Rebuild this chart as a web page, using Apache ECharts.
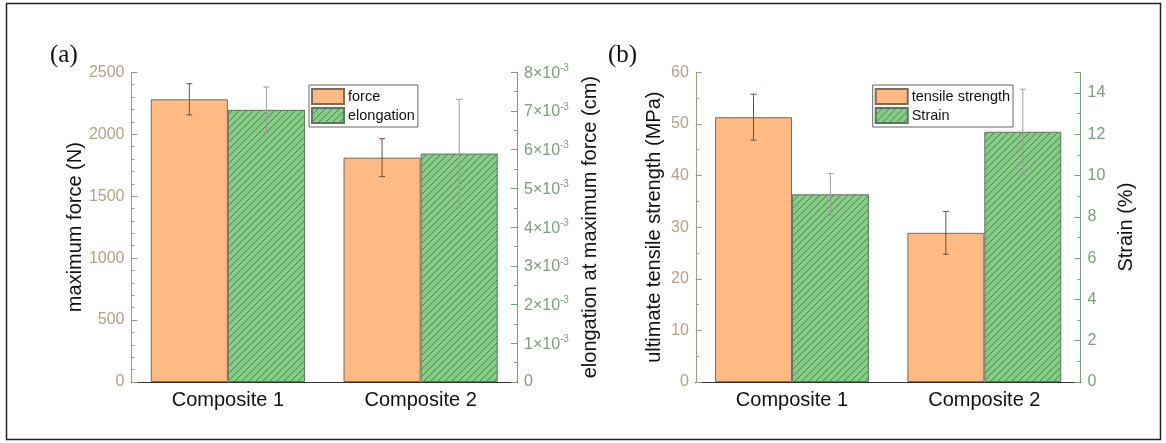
<!DOCTYPE html>
<html>
<head>
<meta charset="utf-8">
<script src="https://cdn.jsdelivr.net/npm/echarts@6/dist/echarts.min.js"></script>
<style>
  html, body { margin: 0; padding: 0; background: #fff; }
  #chart { width: 1166px; height: 443px; }
</style>
</head>
<body>
<div id="chart"></div>
<script>
const categories = ['Composite 1', 'Composite 2']
// panel (a)
const force = [2282, 1811]
const forceErr = [126, 153]
const elongation = [0.00703, 0.0059]
const elongationErr = [0.00059, 0.0014]
// panel (b)
const tensile = [51.3, 28.9]
const tensileErr = [4.45, 4.15]
const strain = [9.09, 12.12]
const strainErr = [1.01, 2.06]

const FONT = 'Liberation Sans, Arial, sans-serif'
const TAN = '#b3a287'
const GREEN_AX = '#7c9c7e'

// hatched green fill
function hatch() {
  const c = document.createElement('canvas')
  const s = 7
  c.width = s
  c.height = s
  const ctx = c.getContext('2d')
  ctx.fillStyle = '#86cc87'
  ctx.fillRect(0, 0, s, s)
  ctx.strokeStyle = '#3f7d45'
  ctx.lineWidth = 0.9
  ctx.beginPath()
  ctx.moveTo(-1, s + 1); ctx.lineTo(s + 1, -1)
  ctx.moveTo(-1, 1); ctx.lineTo(1, -1)
  ctx.moveTo(s - 1, s + 1); ctx.lineTo(s + 1, s - 1)
  ctx.stroke()
  return { image: c, repeat: 'repeat' }
}
const hatchFill = hatch()

function errSeries(vals, errs, gi, yi, offset, color) {
  return {
    type: 'custom',
    xAxisIndex: gi * 2,
    yAxisIndex: gi * 2 + yi,
    z: 10,
    silent: true,
    data: vals.map((v, i) => [i, v, errs[i]]),
    encode: { x: 0, y: 1 },
    renderItem(params, api) {
      const i = api.value(0)
      const v = api.value(1)
      const e = api.value(2)
      const band = api.size([1, 0])[0]
      const x = api.coord([i, v])[0] + offset * band
      const yt = api.coord([i, v + e])[1]
      const yb = api.coord([i, v - e])[1]
      const st = { stroke: color, lineWidth: 1 }
      return {
        type: 'group',
        children: [
          { type: 'line', shape: { x1: x, y1: yt, x2: x, y2: yb }, style: st },
          { type: 'line', shape: { x1: x - 3, y1: yt, x2: x + 3, y2: yt }, style: st },
          { type: 'line', shape: { x1: x - 3, y1: yb, x2: x + 3, y2: yb }, style: st }
        ]
      }
    }
  }
}

function xAxes(gi) {
  const base = {
    type: 'category',
    data: categories,
    gridIndex: gi,
    axisLine: { lineStyle: { color: '#333', width: 1.2 } },
    axisTick: { inside: true, alignWithLabel: true, length: 5, lineStyle: { color: '#333' } },
    splitLine: { show: false }
  }
  return [
    Object.assign({}, base, {
      position: 'bottom',
      axisLabel: { fontSize: 20, color: '#111', fontFamily: FONT, margin: 8 }
    }),
    Object.assign({}, base, { position: 'top', axisLabel: { show: false } })
  ]
}

function leftAxis(gi, max, interval, minorSplit, name, gap) {
  return {
    type: 'value', gridIndex: gi, position: 'left',
    min: 0, max: max, interval: interval,
    name: name, nameLocation: 'middle', nameGap: gap,
    nameTextStyle: { fontSize: 20, color: '#111', fontFamily: FONT },
    axisLine: { show: true, lineStyle: { color: '#a8977f' } },
    axisTick: { show: true, inside: true, length: 6, lineStyle: { color: '#a8977f' } },
    minorTick: { show: true, splitNumber: minorSplit, length: 3, lineStyle: { color: '#a8977f' } },
    axisLabel: { fontSize: 16, color: TAN, fontFamily: FONT, margin: 7, formatter: v => String(v) },
    splitLine: { show: false }
  }
}

function rightAxis(gi, max, interval, name, gap, formatter) {
  return {
    type: 'value', gridIndex: gi, position: 'right',
    min: 0, max: max, interval: interval,
    name: name, nameLocation: 'middle', nameGap: gap,
    nameTextStyle: { fontSize: 20, color: '#111', fontFamily: FONT },
    axisLine: { show: true, lineStyle: { color: GREEN_AX } },
    axisTick: { show: true, inside: true, length: 6, lineStyle: { color: GREEN_AX } },
    minorTick: { show: true, splitNumber: 2, length: 3, lineStyle: { color: GREEN_AX } },
    axisLabel: {
      fontSize: 16, color: GREEN_AX, fontFamily: FONT, margin: 7,
      showMaxLabel: max / interval === Math.round(max / interval),
      formatter: formatter,
      rich: {
        b: { fontSize: 16, color: GREEN_AX, fontFamily: FONT, verticalAlign: 'bottom' },
        s: { fontSize: 10, color: GREEN_AX, fontFamily: FONT, verticalAlign: 'bottom', padding: [0, 0, 8, 0] }
      }
    },
    splitLine: { show: false }
  }
}

function legend(left, names) {
  return {
    left: left, top: 85, orient: 'vertical',
    data: names, icon: 'rect',
    itemWidth: 32, itemHeight: 15, itemGap: 2,
    selectedMode: false,
    padding: [3, 3, 3, 2],
    borderColor: '#666', borderWidth: 1,
    textStyle: { fontSize: 14.5, color: '#111', fontFamily: FONT, padding: [0, 0, 0, -1] }
  }
}

const orangeStyle = { color: '#ffb983', borderColor: '#806a58', borderWidth: 1 }
const greenStyle = { color: hatchFill, borderColor: '#58785a', borderWidth: 1 }

const chart = echarts.init(document.getElementById('chart'))
chart.setOption({
  animation: false,
  backgroundColor: '#fff',
  grid: [
    { left: 131.5, top: 72.3, width: 385.5, height: 309.7 },
    { left: 695.8, top: 72.3, width: 384.7, height: 309.7 }
  ],
  legend: [
    legend(309, ['force', 'elongation']),
    legend(872.7, ['tensile strength', 'Strain'])
  ],
  xAxis: xAxes(0).concat(xAxes(1)),
  yAxis: [
    leftAxis(0, 2500, 500, 5, 'maximum force (N)', 41),
    rightAxis(0, 0.008, 0.001, 'elongation at maximum force (cm)', 63,
      v => v === 0 ? '{b|0}' : '{b|' + Math.round(v * 1000) + '×10}{s|-3}'),
    leftAxis(1, 60, 10, 2, 'ultimate tensile strength (MPa)', 31),
    rightAxis(1, 15, 2, 'Strain (%)', 36, v => '{b|' + v + '}')
  ],
  series: [
    { name: 'force', type: 'bar', xAxisIndex: 0, yAxisIndex: 0, data: force,
      barWidth: '40%', barGap: '0%', itemStyle: orangeStyle },
    { name: 'elongation', type: 'bar', xAxisIndex: 0, yAxisIndex: 1, data: elongation,
      barWidth: '40%', barGap: '0%', itemStyle: greenStyle },
    errSeries(force, forceErr, 0, 0, -0.2, '#6b5142'),
    errSeries(elongation, elongationErr, 0, 1, 0.2, '#9d9d9d'),
    { name: 'tensile strength', type: 'bar', xAxisIndex: 2, yAxisIndex: 2, data: tensile,
      barWidth: '40%', barGap: '0%', itemStyle: orangeStyle },
    { name: 'Strain', type: 'bar', xAxisIndex: 2, yAxisIndex: 3, data: strain,
      barWidth: '40%', barGap: '0%', itemStyle: greenStyle },
    errSeries(tensile, tensileErr, 1, 0, -0.2, '#6b5142'),
    errSeries(strain, strainErr, 1, 1, 0.2, '#9d9d9d')
  ],
  graphic: [
    { type: 'rect', shape: { x: 6.5, y: 3.5, width: 1154, height: 436 },
      style: { fill: 'none', stroke: '#222', lineWidth: 1.5 }, silent: true },
    { type: 'text', left: 50, top: 43,
      style: { text: '(a)', font: '25px "Liberation Serif", "Times New Roman", serif', fill: '#111' } },
    { type: 'text', left: 608, top: 43,
      style: { text: '(b)', font: '25px "Liberation Serif", "Times New Roman", serif', fill: '#111' } }
  ]
})
</script>
</body>
</html>
